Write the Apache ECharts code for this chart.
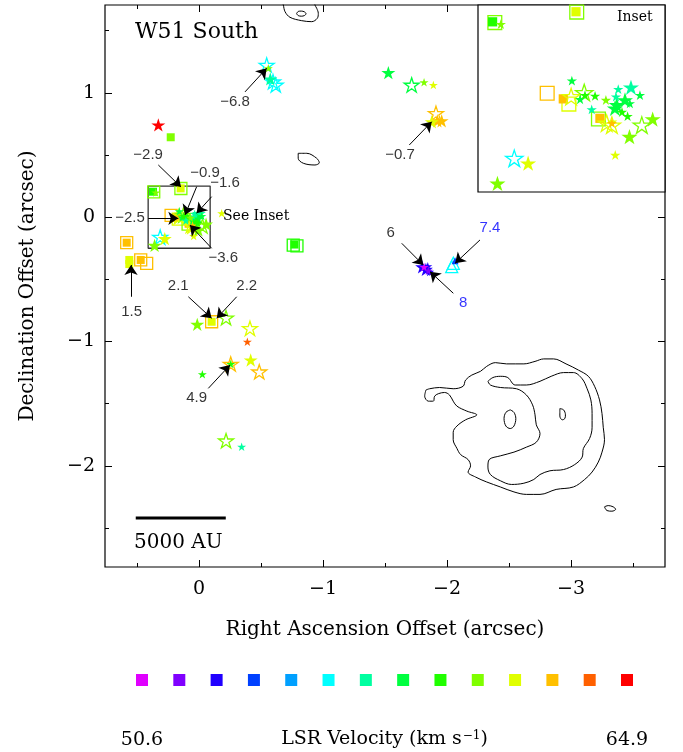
<!DOCTYPE html>
<html><head><meta charset="utf-8">
<script src="https://cdn.jsdelivr.net/npm/echarts@6.0.0/dist/echarts.min.js"></script>
<style>html,body{margin:0;padding:0;background:#fff}#c{width:683px;height:752px}</style>
</head><body><div id="c"></div>
<script>
// ---------- data ----------
const velocityBins = [50.6, 51.7, 52.8, 53.9, 55.0, 56.1, 57.2, 58.3, 59.4, 60.5, 61.6, 62.7, 63.8, 64.9];
const binColors = ['#e000ff','#8000ff','#2000ff','#0040ff','#00a0ff','#00ffff','#00ffa0','#00ff40','#20ff00','#80ff00','#e0ff00','#ffc000','#ff6000','#ff0000'];
const velocityEnds = [50.6, 64.9];

const raMajorTicks = [0, -1, -2, -3];
const raMinorTicks = [0.5, -0.5, -1.5, -2.5, -3.5];
const decMajorTicks = [1, 0, -1, -2];
const decMinorTicks = [1.5, 0.5, -0.5, -1.5, -2.5];

// [RA offset, Dec offset, LSR velocity, marker kind]
// kinds: S big filled star, s small filled star, O open star, Q filled square, q open square, T open triangle, t filled triangle
const masers = [
  [-0.546, 1.224, 56.1, 'O'], [-0.559, 1.198, 60.5, 's'], [-0.575, 1.112, 57.2, 'S'],
  [-0.597, 1.090, 56.1, 'O'], [-0.619, 1.064, 56.1, 'O'],
  [0.328, 0.742, 64.9, 'S'], [0.228, 0.643, 60.5, 'Q'],
  [-1.527, 1.163, 58.3, 'S'], [-1.715, 1.064, 58.3, 'O'], [-1.815, 1.085, 60.5, 's'], [-1.890, 1.064, 61.6, 's'],
  [-1.911, 0.836, 62.7, 'O'], [-1.922, 0.776, 62.7, 'S'], [-1.957, 0.776, 62.7, 'S'], [-1.877, 0.768, 61.6, 'S'],
  [0.583, -0.205, 62.7, 'q'], [0.583, -0.205, 62.7, 'Q'],
  [0.562, -0.344, 61.6, 'Q'], [0.562, -0.377, 61.6, 'Q'],
  [0.470, -0.344, 62.7, 'Q'], [0.470, -0.344, 62.7, 'q'], [0.422, -0.371, 62.7, 'q'],
  [-0.183, 0.031, 61.6, 's'],
  [-0.770, -0.220, 59.4, 'Q'], [-0.790, -0.230, 59.4, 'q'], [-0.760, -0.225, 59.4, 'q'],
  [0.014, -0.862, 60.5, 'S'], [-0.102, -0.841, 61.6, 'Q'], [-0.102, -0.841, 62.7, 'q'],
  [-0.218, -0.809, 60.5, 'O'], [-0.411, -0.894, 61.6, 'O'], [-0.390, -1.002, 63.8, 's'],
  [-0.417, -1.149, 61.6, 'S'], [-0.486, -1.243, 62.7, 'O'], [-0.256, -1.181, 62.7, 'O'],
  [-0.256, -1.181, 59.4, 's'], [-0.027, -1.264, 59.4, 's'],
  [-0.218, -1.798, 60.5, 'O'], [-0.344, -1.846, 57.2, 's'],
  [-1.800, -0.400, 52.8, 'S'], [-1.830, -0.420, 52.8, 'S'], [-1.860, -0.440, 52.8, 's'],
  [-1.845, -0.395, 52.8, 's'], [-1.815, -0.400, 50.6, 's'], [-1.850, -0.430, 51.7, 's'],
  [-2.051, -0.371, 56.1, 'T'], [-2.038, -0.398, 56.1, 'T'], [-2.065, -0.350, 53.9, 't'],
  // cluster inside the inset box
  [0.371, 0.205, 59.4, 'Q'], [0.365, 0.203, 60.5, 'q'], [0.349, 0.199, 60.5, 's'],
  [0.148, 0.232, 61.6, 'Q'], [0.146, 0.231, 60.5, 'q'],
  [0.159, 0.048, 58.3, 's'], [0.126, 0.016, 60.5, 'O'], [0.137, -0.002, 58.3, 's'],
  [0.124, 0.009, 59.4, 's'], [0.097, 0.007, 59.4, 's'],
  [0.225, 0.014, 62.7, 'q'], [0.182, -0.001, 62.7, 'Q'], [0.161, 0.005, 61.6, 'O'], [0.167, -0.015, 61.6, 'q'],
  [0.035, 0.025, 57.2, 's'], [0.001, 0.030, 57.2, 'S'], [0.106, -0.029, 57.2, 's'], [0.041, 0.005, 57.2, 's'],
  [0.068, -0.004, 60.5, 's'], [0.039, -0.017, 58.3, 'S'], [0.017, -0.004, 58.3, 'S'], [0.004, -0.013, 58.3, 's'],
  [0.044, -0.026, 58.3, 'S'], [-0.023, 0.009, 58.3, 's'], [0.025, -0.036, 59.4, 's'],
  [0.084, -0.053, 62.7, 'Q'], [0.088, -0.055, 60.5, 'q'],
  [0.066, -0.066, 61.6, 'O'], [0.052, -0.071, 61.6, 'O'], [0.052, -0.066, 62.7, 's'],
  [0.010, -0.047, 59.4, 's'], [-0.057, -0.055, 60.5, 'S'], [-0.028, -0.071, 60.5, 'O'],
  [0.005, -0.102, 60.5, 'S'], [0.043, -0.151, 61.6, 's'],
  [0.313, -0.160, 56.1, 'O'], [0.276, -0.173, 61.6, 'S'], [0.358, -0.227, 60.5, 'S']
];

// proper-motion annotations: text, label RA/Dec, tail RA/Dec, head RA/Dec, blue?
const arrowNotes = [
  ['−6.8', -0.29, 0.93, -0.371, 1.008, -0.546, 1.198, false],
  ['−2.9', 0.41, 0.50, 0.328, 0.42, 0.145, 0.243, false],
  ['−0.9', -0.048, 0.353, 0.019, 0.245, 0.113, 0.018, false],
  ['−1.6', -0.21, 0.273, -0.102, 0.165, 0.019, 0.031, false],
  ['−2.5', 0.556, -0.009, 0.409, -0.009, 0.167, -0.009, false],
  ['−3.6', -0.196, -0.331, -0.102, -0.25, 0.073, -0.063, false],
  ['1.5', 0.543, -0.76, 0.548, -0.64, 0.548, -0.385, false],
  ['2.1', 0.167, -0.553, 0.086, -0.64, -0.102, -0.813, false],
  ['2.2', -0.385, -0.553, -0.304, -0.64, -0.143, -0.813, false],
  ['4.9', 0.019, -1.457, -0.075, -1.377, -0.25, -1.189, false],
  ['−0.7', -1.621, 0.50, -1.696, 0.581, -1.877, 0.768, false],
  ['6', -1.546, -0.13, -1.635, -0.21, -1.809, -0.385, false],
  ['8', -2.131, -0.693, -2.051, -0.612, -1.863, -0.438, true],
  ['7.4', -2.347, -0.089, -2.266, -0.183, -2.065, -0.371, true]
];

// continuum contours (RA, Dec)
const contourOuter = [[-1.83,-1.39],[-1.82,-1.44],[-1.85,-1.48],[-1.89,-1.48],[-1.90,-1.44],[-1.93,-1.42],[-1.98,-1.41],[-2.02,-1.43],[-2.05,-1.48],[-2.08,-1.52],[-2.16,-1.56],[-2.24,-1.59],[-2.15,-1.63],[-2.08,-1.68],[-2.05,-1.73],[-2.05,-1.79],[-2.08,-1.86],[-2.11,-1.91],[-2.17,-1.95],[-2.19,-2.00],[-2.17,-2.05],[-2.23,-2.09],[-2.32,-2.13],[-2.43,-2.17],[-2.54,-2.21],[-2.64,-2.23],[-2.75,-2.23],[-2.88,-2.19],[-3.02,-2.17],[-3.11,-2.11],[-3.17,-2.05],[-3.22,-1.97],[-3.25,-1.89],[-3.27,-1.79],[-3.26,-1.69],[-3.25,-1.58],[-3.23,-1.47],[-3.19,-1.36],[-3.14,-1.28],[-3.06,-1.23],[-2.96,-1.18],[-2.86,-1.14],[-2.78,-1.14],[-2.71,-1.16],[-2.62,-1.18],[-2.48,-1.18],[-2.39,-1.17],[-2.32,-1.20],[-2.27,-1.24],[-2.20,-1.27],[-2.15,-1.31],[-2.13,-1.36],[-2.05,-1.38],[-1.94,-1.37],[-1.86,-1.38],[-1.83,-1.39]];
const contourInner = [[-2.33,-1.32],[-2.37,-1.29],[-2.43,-1.28],[-2.49,-1.29],[-2.55,-1.35],[-2.64,-1.35],[-2.75,-1.32],[-2.84,-1.28],[-2.94,-1.25],[-3.02,-1.25],[-3.09,-1.30],[-3.13,-1.38],[-3.16,-1.47],[-3.17,-1.58],[-3.17,-1.69],[-3.15,-1.78],[-3.10,-1.86],[-3.09,-1.93],[-3.03,-1.99],[-2.94,-2.03],[-2.83,-2.04],[-2.75,-2.07],[-2.70,-2.11],[-2.62,-2.14],[-2.52,-2.15],[-2.43,-2.12],[-2.35,-2.07],[-2.33,-2.01],[-2.34,-1.95],[-2.43,-1.92],[-2.54,-1.89],[-2.64,-1.85],[-2.72,-1.81],[-2.75,-1.74],[-2.72,-1.67],[-2.71,-1.59],[-2.69,-1.51],[-2.64,-1.43],[-2.56,-1.38],[-2.43,-1.37],[-2.35,-1.35],[-2.33,-1.32]];
const contourBlobA = [[-2.51,-1.55],[-2.54,-1.57],[-2.555,-1.62],[-2.54,-1.68],[-2.51,-1.70],[-2.475,-1.68],[-2.46,-1.62],[-2.475,-1.57],[-2.51,-1.55]];
const contourBlobB = [[-2.91,-1.54],[-2.94,-1.55],[-2.955,-1.59],[-2.95,-1.62],[-2.93,-1.63],[-2.91,-1.60],[-2.91,-1.54]];
const contourBlobC = [[-3.27,-2.33],[-3.30,-2.32],[-3.34,-2.33],[-3.36,-2.35],[-3.33,-2.365],[-3.29,-2.36],[-3.27,-2.33]];
const contourTop = [[-0.66,1.78],[-0.68,1.707],[-0.694,1.653],[-0.734,1.608],[-0.828,1.581],[-0.909,1.573],[-0.954,1.600],[-0.962,1.640],[-0.949,1.681],[-0.935,1.707],[-0.92,1.78]];
const contourTopInner = [[-0.787,1.637],[-0.80,1.655],[-0.825,1.658],[-0.85,1.652],[-0.863,1.637],[-0.85,1.622],[-0.825,1.617],[-0.80,1.622],[-0.787,1.637]];
const contourSmall = [[-0.80,0.514],[-0.869,0.514],[-0.949,0.474],[-0.97,0.438],[-0.935,0.42],[-0.841,0.434],[-0.80,0.474],[-0.80,0.514]];
const contourLevels = [contourOuter, contourInner, contourBlobA, contourBlobB, contourBlobC, contourTop, contourTopInner, contourSmall];

const insetRA = [-0.09, 0.41];
const insetDec = [-0.25, 0.25];
const scaleBarRA = [0.51, -0.216];
const scaleBarDec = -2.42;

// ---------- chart ----------
const STAR = 'path://M50,0L61.2,34.5L97.6,34.5L68.2,55.9L79.4,90.5L50,69.1L20.6,90.5L31.8,55.9L2.4,34.5L38.8,34.5Z';
const kinds = {
  q: {symbol: 'rect', size: 12, fill: false},
  Q: {symbol: 'rect', size: 8, fill: true},
  T: {symbol: 'triangle', size: 12, fill: false},
  t: {symbol: 'triangle', size: 7, fill: true},
  O: {symbol: STAR, size: 15, fill: false},
  S: {symbol: STAR, size: 14, fill: true},
  s: {symbol: STAR, size: 9, fill: true}
};
function colorOf(v) {
  let best = 0;
  velocityBins.forEach((b, i) => { if (Math.abs(b - v) < Math.abs(velocityBins[best] - v)) best = i; });
  return binColors[best];
}
function maserSeries(ai, z, scale) {
  return Object.keys(kinds).map(k => ({
    type: 'scatter', xAxisIndex: ai, yAxisIndex: ai, z: z, clip: true, silent: true, animation: false,
    symbol: kinds[k].symbol, symbolSize: kinds[k].size * scale, symbolKeepAspect: true,
    itemStyle: {opacity: 1},
    data: masers.filter(m => m[3] === k).map(m => ({
      value: [m[0], m[1], m[2]],
      itemStyle: kinds[k].fill ? {color: colorOf(m[2]), opacity: 1}
        : {color: 'rgba(0,0,0,0)', borderColor: colorOf(m[2]), borderWidth: 1.3, opacity: 1}
    }))
  }));
}
const SERIF = '"DejaVu Serif", serif';
const fmtMinus = v => (v < 0 ? '\u2212' + Math.abs(v) : String(v));

function mainAxis(dim, pos, ticks, len, labels, extra) {
  return Object.assign({
    gridIndex: 0, type: 'value', position: pos,
    axisLine: {show: false, onZero: false}, splitLine: {show: false},
    axisTick: {show: true, inside: true, length: len, customValues: ticks, lineStyle: {color: '#000', width: 1}},
    axisLabel: labels ? {show: true, customValues: labels, formatter: fmtMinus, color: '#000',
      fontFamily: SERIF, fontSize: 19, margin: dim === 'x' ? 13 : 10} : {show: false}
  }, extra);
}
const xr = {min: -3.758, max: 0.758, inverse: true};
const yr = {min: -2.814, max: 1.707};

const xAxes = [
  mainAxis('x', 'bottom', raMajorTicks, 7, raMajorTicks, Object.assign({
    name: 'Right Ascension Offset (arcsec)', nameLocation: 'middle', nameGap: 53, nameMoveOverlap: false,
    nameTextStyle: {fontFamily: SERIF, fontSize: 20, color: '#000'}}, xr)),
  mainAxis('x', 'bottom', raMinorTicks, 4, null, xr),
  mainAxis('x', 'top', raMajorTicks, 7, null, xr),
  mainAxis('x', 'top', raMinorTicks, 4, null, xr),
  {gridIndex: 1, type: 'value', min: insetRA[0], max: insetRA[1], inverse: true, show: false},
  {gridIndex: 2, type: 'value', min: velocityEnds[0], max: velocityEnds[1],
    axisLine: {show: false, onZero: false}, axisTick: {show: false}, splitLine: {show: false},
    axisLabel: {customValues: velocityEnds, color: '#000', fontFamily: SERIF, fontSize: 19, margin: 45},
    name: 'LSR Velocity (km s{sup|\u22121})', nameLocation: 'middle', nameGap: 44, nameMoveOverlap: false,
    nameTextStyle: {fontFamily: SERIF, fontSize: 19, color: '#000',
      rich: {sup: {fontFamily: SERIF, fontSize: 12, color: '#000', verticalAlign: 'top', padding: [0, 0, 0, 1]}}}}
];
const yAxes = [
  mainAxis('y', 'left', decMajorTicks, 7, decMajorTicks, Object.assign({
    name: 'Declination Offset (arcsec)', nameLocation: 'middle', nameGap: 67, nameRotate: 90, nameMoveOverlap: false,
    nameTextStyle: {fontFamily: SERIF, fontSize: 20, color: '#000'}}, yr)),
  mainAxis('y', 'left', decMinorTicks, 4, null, yr),
  mainAxis('y', 'right', decMajorTicks, 7, null, yr),
  mainAxis('y', 'right', decMinorTicks, 4, null, yr),
  {gridIndex: 1, type: 'value', min: insetDec[0], max: insetDec[1], show: false},
  {gridIndex: 2, type: 'value', min: 0, max: 1, show: false}
];

const series = [];
// contours
contourLevels.forEach(c => series.push({
  type: 'line', xAxisIndex: 0, yAxisIndex: 0, data: c, showSymbol: false, symbol: 'none',
  smooth: 0.35, clip: true, silent: true, animation: false, z: 1,
  lineStyle: {color: '#000', width: 1}
}));
// inset box on main plot
series.push({
  type: 'line', xAxisIndex: 0, yAxisIndex: 0, symbol: 'none', silent: true, animation: false, z: 1,
  data: [[insetRA[1], insetDec[1]], [insetRA[0], insetDec[1]], [insetRA[0], insetDec[0]], [insetRA[1], insetDec[0]], [insetRA[1], insetDec[1]]],
  lineStyle: {color: '#333', width: 1.3}
});
// scale bar
series.push({
  type: 'line', xAxisIndex: 0, yAxisIndex: 0, symbol: 'none', silent: true, animation: false,
  data: [[scaleBarRA[0], scaleBarDec], [scaleBarRA[1], scaleBarDec]],
  lineStyle: {color: '#000', width: 3}
});
// masers main + inset
maserSeries(0, 3, 1).forEach(s => series.push(s));
maserSeries(4, 6, 1.15).forEach(s => series.push(s));
// arrows
series.push({
  type: 'line', xAxisIndex: 0, yAxisIndex: 0, data: [], silent: true, animation: false, z: 7,
  markLine: {
    silent: true, animation: false, symbol: ['none', 'arrow'], symbolSize: 10, label: {show: false},
    lineStyle: {color: '#000', width: 1, type: 'solid', opacity: 1}, emphasis: {disabled: true},
    itemStyle: {color: '#000'},
    data: arrowNotes.map(a => [{coord: [a[3], a[4]]}, {coord: [a[5], a[6]]}])
  }
});
// arrow labels
series.push({
  type: 'scatter', xAxisIndex: 0, yAxisIndex: 0, symbolSize: 0, silent: true, animation: false, z: 7,
  data: arrowNotes.map(a => ({value: [a[1], a[2]], name: a[0],
    label: {color: a[7] ? '#0000ff' : '#000'}})),
  label: {show: true, position: 'inside', formatter: p => p.name,
    fontFamily: '"Liberation Sans", Arial, sans-serif', fontSize: 15}
});
// velocity legend
series.push({
  type: 'scatter', xAxisIndex: 5, yAxisIndex: 5, symbol: 'rect', symbolSize: 12, silent: true, animation: false,
  itemStyle: {opacity: 1},
  data: velocityBins.map((v, i) => ({value: [v, 0.5], itemStyle: {color: binColors[i], opacity: 1}}))
});

const option = {
  backgroundColor: '#fff',
  animation: false,
  grid: [
    {left: 105, top: 5, width: 560, height: 562, show: true, borderColor: '#000', borderWidth: 1.2, backgroundColor: 'rgba(0,0,0,0)'},
    {left: 478, top: 5, width: 187, height: 187, show: true, borderColor: '#000', borderWidth: 1.2, backgroundColor: '#fff', z: 4},
    {left: 142, top: 674, width: 485, height: 12}
  ],
  xAxis: xAxes,
  yAxis: yAxes,
  series: series,
  graphic: [
    {type: 'text', left: 135, top: 21, z: 100, style: {text: 'W51 South', font: '22px "DejaVu Serif"', fill: '#000'}},
    {type: 'text', left: 223, top: 209, z: 100, style: {text: 'See Inset', font: '14px "DejaVu Serif"', fill: '#000'}},
    {type: 'text', left: 617, top: 10, z: 100, style: {text: 'Inset', font: '14px "DejaVu Serif"', fill: '#000'}},
    {type: 'text', left: 134, top: 533, z: 100, style: {text: '5000 AU', font: '20px "DejaVu Serif"', fill: '#000'}}
  ]
};
const chart = echarts.init(document.getElementById('c'), null, {renderer: 'canvas'});
chart.setOption(option);
</script>
</body></html>
